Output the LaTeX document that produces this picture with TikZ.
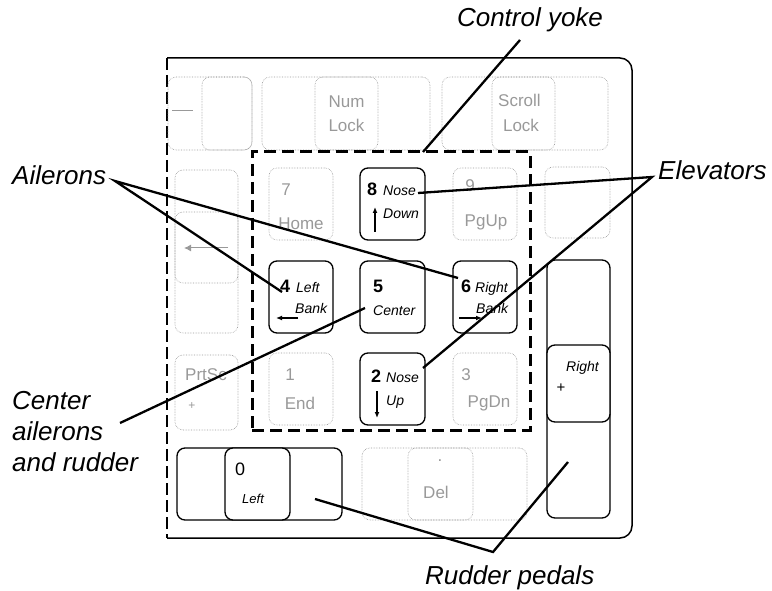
\documentclass[tikz,border=0pt]{standalone}
\usepackage{fontspec}
\setmainfont{Liberation Sans}
\usetikzlibrary{arrows.meta}

\begin{document}
\begin{tikzpicture}[x=1pt, y=-1pt,
    key/.style={draw, line width=1.3pt, rounded corners=8pt, inner sep=0pt},
    ghost/.style={draw=black!40, densely dotted, line width=0.6pt, rounded corners=8pt, inner sep=0pt},
    ghosttext/.style={text=black!40, font=\fontsize{17}{17}\selectfont, inner sep=0pt},
    num/.style={font=\fontsize{18}{18}\selectfont\bfseries, anchor=base west, inner sep=0pt},
    word/.style={font=\fontsize{14}{14}\selectfont\itshape, anchor=base west, inner sep=0pt},
    callout/.style={font=\fontsize{26}{31}\selectfont\itshape, inner sep=0pt},
    lead/.style={line width=2.3pt},
    keyarrow/.style={line width=1.2pt, -{Latex[length=6pt, width=5pt]}}]

    \useasboundingbox (0,0) rectangle (772,591);

    % keyboard case
    \draw [line width=1.5pt, rounded corners=12pt] (167,58) -- (632,58) -- (632,538) -- (167,538);
    \draw [line width=1.5pt, dash pattern=on 12pt off 5pt] (167,58) -- (167,538);

    % keys that play no part (faint)
    \foreach \n/\cx/\cy/\w/\h in {g1/210/113.5/84/73, g1b/227/113.5/50/73,
        g2/346/113.5/168/73, gnum/346.5/113.5/63/73, g3/525/113.5/166/73, gscr/523.5/113.5/63/73,
        gl1/206.5/226.5/63/113, gl2/206.5/272.5/63/121, g7/301/204/64/72, g9/485/204/64/72,
        gr/577.5/202.5/65/71, gprt/206.5/392.5/63/75, g1k/301/389/64/72, g3k/485/389/64/72,
        gdel/444.5/484/165/72, gdelk/440.5/484/65/72}
        \node [ghost, minimum width={\w pt}, minimum height={\h pt}] (\n) at (\cx,\cy) {};

    \draw [black!40, line width=0.8pt] (172,110) -- (193,110);
    \node [ghosttext] (tnum) at (346.5,102) {Num};
    \node [ghosttext] (tnlock) at (346.5,125) {Lock};
    \node [ghosttext, anchor=west] (tscr) at (498,100) {Scroll};
    \node [ghosttext] (tslock) at (521,125) {Lock};
    \draw [black!40, line width=1pt, -{Latex[length=7pt, width=7pt]}] (228,248) -- (184,248);
    \node [ghosttext] (t7) at (286,190) {7};
    \node [ghosttext] (thome) at (301,224) {Home};
    \node [ghosttext] (t9) at (470,186) {9};
    \node [ghosttext] (tpgup) at (486,222) {PgUp};
    \node [ghosttext] (tprt) at (206,375) {PrtSc};
    \node [ghosttext, font=\fontsize{12}{12}\selectfont] (tstar) at (192,406) {+};
    \node [ghosttext] (t1) at (290,375) {1};
    \node [ghosttext] (tend) at (300,403) {End};
    \node [ghosttext] (t3) at (466,375) {3};
    \node [ghosttext] (tpgdn) at (489,403) {PgDn};
    \node [ghosttext] (tdot) at (440,461) {.};
    \node [ghosttext] (tdel) at (436,492) {Del};

    % flight keys
    \node [key, minimum width=65pt, minimum height=72pt] (k8) at (392.5,204) {};
    \node [key, minimum width=64pt, minimum height=72pt] (k4) at (301,297) {};
    \node [key, minimum width=65pt, minimum height=72pt] (k5) at (392.5,297) {};
    \node [key, minimum width=64pt, minimum height=72pt] (k6) at (485,297) {};
    \node [key, minimum width=65pt, minimum height=72pt] (k2) at (392.5,389) {};
    \node [key, minimum width=63pt, minimum height=258pt] (kpad) at (578.5,389) {};
    \node [key, fill=white, minimum width=63pt, minimum height=77pt] (kright) at (578.5,383.5) {};
    \node [key, minimum width=165pt, minimum height=72pt] (kzero) at (259.5,484) {};
    \node [key, fill=white, minimum width=65pt, minimum height=72pt] (k0) at (257.5,484) {};

    \node [num] (n8) at (367,196) {8};
    \node [word] (w8a) at (383,196) {Nose};
    \node [word] (w8b) at (383,219) {Down};
    \draw [keyarrow] (375,232) -- (375,207);

    \node [num] (n4) at (280,292) {4};
    \node [word] (w4a) at (296,292) {Left};
    \node [word] (w4b) at (295,313) {Bank};
    \draw [keyarrow] (298,318) -- (276,318);

    \node [num] (n5) at (373,292) {5};
    \node [word] (w5) at (373,315) {Center};

    \node [num] (n6) at (461,292) {6};
    \node [word] (w6a) at (475,292) {Right};
    \node [word] (w6b) at (476,313) {Bank};
    \draw [keyarrow] (459,318) -- (482,318);

    \node [num] (n2) at (371,382) {2};
    \node [word] (w2a) at (386,382) {Nose};
    \node [word] (w2b) at (386,405) {Up};
    \draw [keyarrow] (377,391) -- (377,418);

    \node [word] (wr) at (566,371) {Right};
    \node [font=\fontsize{15}{15}\selectfont, inner sep=0pt] (wplus) at (561,388) {+};

    \node [num, font=\fontsize{18}{18}\selectfont] (n0) at (235,475) {0};
    \node [word, font=\fontsize{13}{13}\selectfont\itshape] (w0) at (242,503) {Left};

    % control yoke frame
    \node [draw, line width=3pt, dash pattern=on 12pt off 6pt, inner sep=0pt,
           minimum width=278pt, minimum height=278pt] (yoke) at (391,291) {};

    % callouts
    \node [callout, anchor=base] (cyoke) at (530,27) {Control yoke};
    \node [callout, anchor=base west] (ailerons) at (12,185) {Ailerons};
    \node [callout, anchor=base west] (elevators) at (658,180) {Elevators};
    \node [callout, anchor=north west, align=left] (centre) at (12,391) {Center\\ailerons\\and rudder};
    \node [callout, anchor=base west] (rudder) at (425,584) {Rudder pedals};

    \coordinate (cyoke tip) at (520,40);
    \coordinate (yoke hit) at (423,152);
    \coordinate (ail tip) at (115,181);
    \coordinate (ail four) at (282,292);
    \coordinate (ail six) at (458,278);
    \coordinate (elev tip) at (652,177);
    \coordinate (elev eight) at (418,193);
    \coordinate (elev two) at (423,368);
    \coordinate (centre tip) at (120,423);
    \coordinate (centre five) at (365,308);
    \coordinate (rud left) at (315,499);
    \coordinate (rud tip) at (493,552);
    \coordinate (rud right) at (568,462);

    \draw [lead] (cyoke tip) -- (yoke hit);
    \draw [lead] (ail four) -- (ail tip) -- (ail six);
    \draw [lead] (elev eight) -- (elev tip) -- (elev two);
    \draw [lead] (centre tip) -- (centre five);
    \draw [lead] (rud left) -- (rud tip) -- (rud right);
\end{tikzpicture}
\end{document}
